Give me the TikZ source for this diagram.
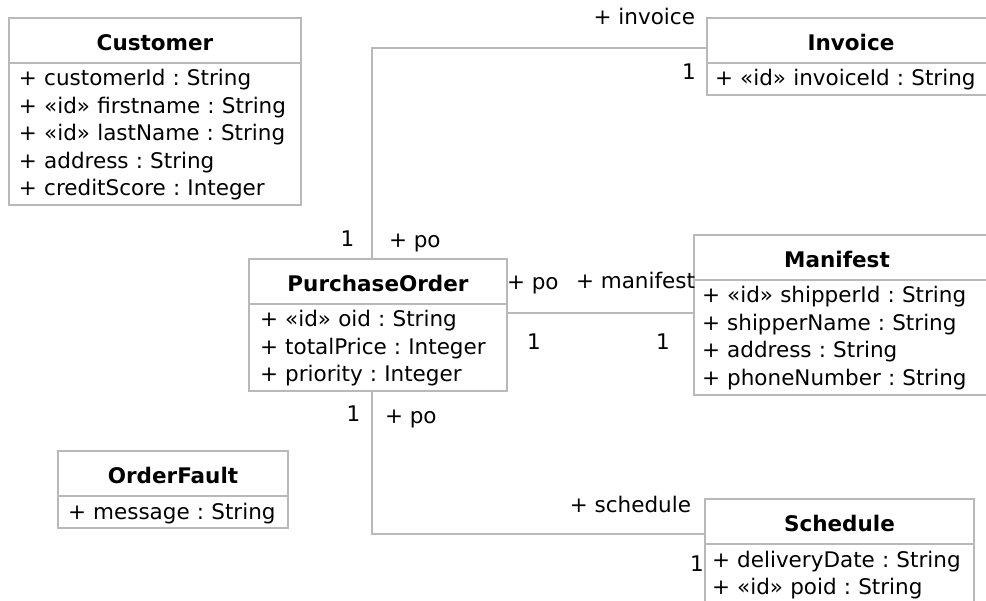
\documentclass[tikz,border=0pt]{standalone}
\usepackage{fontspec}
\setmainfont{DejaVu Sans}
\definecolor{lc}{RGB}{185,185,185}
\newcommand\bodyfnt{\fontsize{21.5pt}{27.5pt}\selectfont\frenchspacing}
\newcommand\titlefnt{\fontsize{21.5pt}{25pt}\selectfont\bfseries}
\newcommand\rw[1]{\rule[-7pt]{0pt}{27.5pt}\mbox{#1}}
\tikzset{
  every node/.style={inner sep=0pt, outer sep=0pt},
  hdr/.style={draw=lc, line width=2pt, fill=white, font=\titlefnt, text height=32.7pt, text depth=12.3pt, minimum width=#1, align=center, anchor=north west},
  bdy/.style={draw=lc, line width=2pt, fill=white, font=\bodyfnt, align=left, anchor=north west, inner ysep=2.5pt},
  lbl/.style={font=\bodyfnt},
  conn/.style={draw=lc, line width=2pt},
}
\begin{document}
\begin{tikzpicture}[x=1pt,y=-1pt]
\useasboundingbox (0,0) rectangle (986,601);
\clip (0,0) rectangle (986,601);
\fill[white] (0,0) rectangle (986,601);

% coordinates for connector bends
\coordinate (tc) at (372,48);
\coordinate (mc) at (600,313);
\coordinate (bc) at (372,534);

% Customer
\node[hdr=292pt] (custh) at (9,18) {Customer};
\node[bdy, text width=272pt, inner xsep=10pt] (custb) at (custh.south west)
  {\rw{+ customerId : String}\\\rw{+ «id» firstname : String}\\\rw{+ «id» lastName : String}\\\rw{+ address : String}\\\rw{+ creditScore : Integer}};

% Invoice
\node[hdr=310pt] (invh) at (707,18) {\hspace*{-22pt}Invoice};
\node[bdy, text width=294pt, inner xsep=8pt] (invb) at (invh.south west)
  {\rw{+ «id» invoiceId : String}};

% PurchaseOrder
\node[hdr=258pt] (poh) at (249,259) {PurchaseOrder};
\node[bdy, text width=236pt, inner xsep=11pt] (pob) at (poh.south west)
  {\rw{+ «id» oid : String}\\\rw{+ totalPrice : Integer}\\\rw{+ priority : Integer}};

% Manifest
\node[hdr=320pt] (manh) at (694,235) {\hspace*{-34pt}Manifest};
\node[bdy, text width=304pt, inner xsep=8pt] (manb) at (manh.south west)
  {\rw{+ «id» shipperId : String}\\\rw{+ shipperName : String}\\\rw{+ address : String}\\\rw{+ phoneNumber : String}};

% OrderFault
\node[hdr=230pt] (ofh) at (58,451) {OrderFault};
\node[bdy, text width=210pt, inner xsep=10pt] (ofb) at (ofh.south west)
  {\rw{+ message : String}};

% Schedule
\node[hdr=269pt] (schh) at (705,499) {Schedule};
\node[bdy, text width=255pt, inner xsep=7pt] (schb) at (schh.south west)
  {\rw{+ deliveryDate : String}\\\rw{+ «id» poid : String}};

% connectors
\draw[conn] (tc |- poh.north) |- (invh.west |- tc);
\draw[conn] (pob.east |- mc) -- (manb.west |- mc);
\draw[conn] (bc |- pob.south) |- (schh.west |- bc);

% labels
\node[lbl, anchor=base east] (l1) at (695,25) {+ invoice};
\node[lbl, anchor=base] (l2) at (689,80) {1};
\node[lbl, anchor=base] (l3) at (347.5,247) {1};
\node[lbl, anchor=base west] (l4) at (389,248) {+ po};
\node[lbl, anchor=base west] (l5) at (507,290) {+ po};
\node[lbl, anchor=base east] (l6) at (695,289) {+ manifest};
\node[lbl, anchor=base] (l7) at (534,350) {1};
\node[lbl, anchor=base] (l8) at (663,350) {1};
\node[lbl, anchor=base] (l9) at (353.5,422) {1};
\node[lbl, anchor=base west] (l10) at (385,424) {+ po};
\node[lbl, anchor=base east] (l11) at (691,513) {+ schedule};
\node[lbl, anchor=base] (l12) at (697,572) {1};
\end{tikzpicture}
\end{document}
